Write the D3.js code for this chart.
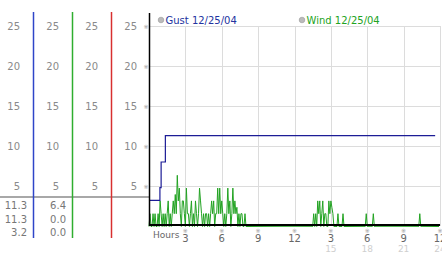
<!DOCTYPE html>
<html>
<head>
<meta charset="utf-8">
<script src="https://cdn.jsdelivr.net/npm/d3@7"></script>
<style>
  body { margin: 0; background: #fff; }
  svg { display: block; font-family: "DejaVu Sans", Verdana, sans-serif; }
</style>
</head>
<body>
<svg width="442" height="253"></svg>
<script>
// y ticks shared by the side columns and the plot
const yTicks = [5, 10, 15, 20, 25];
const hourTicks = [3, 6, 9, 12, 15, 18, 21, 24];
const hourLabels = ['3', '6', '9', '12', '3', '6', '9', '12'];
const hourLabels24 = ['', '', '', '', '15', '18', '21', '24'];

// side columns: gust, wind, (empty), plot axis
const columnColors = ['#2f45c8', '#2fae2f', '#d83030', '#000'];
const gustStats = ['11.3', '11.3', '3.2'];
const windStats = ['6.4', '0.0', '0.0'];

// gust, step series (hours, mph)
const gustHours = [0, 0.9, 1.0, 1.35, 23.6];
const gustValues = [3.2, 4.8, 8.0, 11.3, 11.3];

// wind, 5 minute samples, one row = 2 hours
const windValues = [
  0,1.6,0,0,1.6,0,1.6,0,0,1.6,0,3.2,1.6,0,1.6,0,1.6,0,1.6,3.2,0,1.6,0,1.6,
  3.2,1.6,4.0,1.6,6.4,3.2,4.8,1.6,0,3.2,3.2,1.6,0,4.8,1.6,1.6,0,1.6,3.2,0,1.6,0,3.2,1.6,
  0,1.6,4.8,3.2,1.6,0,1.6,0,1.6,1.6,0,1.6,0,1.6,3.2,1.6,3.2,0,1.6,1.6,4.8,1.6,4.8,1.6,
  3.2,1.6,0,1.6,0,1.6,4.8,1.6,3.2,0,1.6,4.8,1.6,3.2,1.6,2.4,0,1.6,0,1.6,1.6,0,0,1.6,
  0,0,0,0,0,0,0,0,0,0,0,0,0,0,0,0,0,0,0,0,0,0,0,0,
  0,0,0,0,0,0,0,0,0,0,0,0,0,0,0,0,0,0,0,0,0,0,0,0,
  0,0,0,0,0,0,0,0,0,0,0,0,0,0,0,0,0,0,0,1.6,0,1.6,0,3.2,
  1.6,3.2,0,1.6,3.2,0,1.6,1.6,0,0,3.2,1.6,3.2,2.4,1.6,0,0,0,0,1.6,0,0,0,0,
  1.6,0,0,0,0,0,0,0,0,0,0,0,0,0,0,0,0,0,0,0,0,0,0,1.6,
  0,0,0,0,0,0,1.6,0,0,0,0,0,0,0,0,0,0,0,0,0,0,0,0,0,
  0,0,0,0,0,0,0,0,0,0,0,0,0,0,0,0,0,0,0,0,0,0,0,0,
  0,0,0,0,1.6,0,0,0,0,0,0,0,0,0,0,0,0,0,0,0,0,0,0,0
];

const svg = d3.select('svg');

const x = d3.scaleLinear().domain([0, 24]).range([149, 440]);
const y = d3.scaleLinear().domain([0, 25]).range([226, 26]);
const col = i => 33 + 39 * i;

// grid
svg.append('g')
  .selectAll('line')
  .data(yTicks)
  .enter().append('line')
  .attr('x1', x(0)).attr('x2', x(24))
  .attr('y1', d => Math.round(y(d)) + 0.5).attr('y2', d => Math.round(y(d)) + 0.5)
  .attr('stroke', '#dcdcdc');

svg.append('g')
  .selectAll('line')
  .data(hourTicks)
  .enter().append('line')
  .attr('x1', d => Math.round(x(d)) + 0.5).attr('x2', d => Math.round(x(d)) + 0.5)
  .attr('y1', y(25)).attr('y2', y(0))
  .attr('stroke', '#dcdcdc');

// side columns
svg.append('line')
  .attr('x1', 0).attr('x2', x(0))
  .attr('y1', 197).attr('y2', 197)
  .attr('stroke', '#a8a8a8').attr('stroke-width', 2);

columnColors.forEach((c, i) => {
  if (i < 3) {
    svg.append('line')
      .attr('x1', col(i) + 0.5).attr('x2', col(i) + 0.5)
      .attr('y1', 12).attr('y2', 238)
      .style('stroke', c)
      .style('stroke-width', 1.5);
  }
  svg.append('g')
    .selectAll('text')
    .data(yTicks)
    .enter().append('text')
    .attr('x', 20 + 39 * i)
    .attr('y', d => y(d) + 4)
    .attr('text-anchor', 'end')
    .style('font-size', '10px')
    .style('fill', '#8a8a8a')
    .text(d => d);
});

[gustStats, windStats].forEach((vals, i) => {
  svg.append('g')
    .selectAll('text')
    .data(vals)
    .enter().append('text')
    .attr('x', 27 + 39 * i)
    .attr('y', (d, j) => 209 + j * 13.5)
    .attr('text-anchor', 'end')
    .style('font-size', '10px')
    .style('fill', '#777')
    .text(d => d);
});

// little tick marks
svg.append('g')
  .selectAll('text')
  .data(yTicks)
  .enter().append('text')
  .attr('x', 146)
  .attr('y', d => y(d) + 3)
  .attr('text-anchor', 'middle')
  .style('font-size', '6px')
  .style('fill', '#999')
  .text('\u203B');

svg.append('g')
  .selectAll('text')
  .data(hourTicks)
  .enter().append('text')
  .attr('x', d => x(d))
  .attr('y', 233)
  .attr('text-anchor', 'middle')
  .style('font-size', '6px')
  .style('fill', '#999')
  .text('\u203B');

// series
svg.append('path')
  .datum(windValues)
  .attr('fill', 'none')
  .attr('stroke', '#22a322')
  .attr('stroke-width', 1)
  .attr('d', d3.line()
    .x((d, i) => x(i / 12))
    .y(d => y(d) + 0.5));

const gustData = gustHours.map((h, i) => [h, gustValues[i]]);
svg.append('path')
  .datum(gustData)
  .attr('fill', 'none')
  .attr('stroke', '#1c1c96')
  .attr('stroke-width', 1.2)
  .attr('d', d3.line()
    .curve(d3.curveStepAfter)
    .x(d => x(d[0]))
    .y(d => y(d[1])));

// axes
svg.append('line')
  .attr('x1', x(0)).attr('x2', x(24))
  .attr('y1', 225).attr('y2', 225)
  .attr('stroke', '#000').attr('stroke-width', 2);

svg.append('line')
  .attr('x1', x(0) + 0.5).attr('x2', x(0) + 0.5)
  .attr('y1', 13).attr('y2', 226)
  .attr('stroke', '#000').attr('stroke-width', 1.5);

svg.append('text')
  .attr('x', 153).attr('y', 238)
  .style('font-size', '9px')
  .style('fill', '#666')
  .text('Hours');

svg.append('g')
  .selectAll('text')
  .data(hourTicks)
  .enter().append('text')
  .attr('x', d => x(d))
  .attr('y', 242)
  .attr('text-anchor', 'middle')
  .style('font-size', '10px')
  .style('fill', '#666')
  .text((d, i) => hourLabels[i]);

svg.append('g')
  .selectAll('text')
  .data(hourTicks)
  .enter().append('text')
  .attr('x', d => x(d))
  .attr('y', 252)
  .attr('text-anchor', 'middle')
  .style('font-size', '9px')
  .style('fill', '#cfcfcf')
  .text((d, i) => hourLabels24[i]);

// legend
const legend = [
  { label: 'Gust 12/25/04', color: '#2233a0', x: 161 },
  { label: 'Wind 12/25/04', color: '#22a322', x: 302 }
];
const lg = svg.append('g')
  .selectAll('g')
  .data(legend)
  .enter().append('g')
  .attr('transform', d => `translate(${d.x}, 20)`);
lg.append('circle')
  .attr('r', 2.8)
  .attr('fill', '#bbb')
  .attr('stroke', '#999')
  .attr('stroke-width', 0.6);
lg.append('text')
  .attr('x', 4.5)
  .attr('y', 3.5)
  .style('font-size', '10px')
  .style('fill', d => d.color)
  .text(d => d.label);
</script>
</body>
</html>
